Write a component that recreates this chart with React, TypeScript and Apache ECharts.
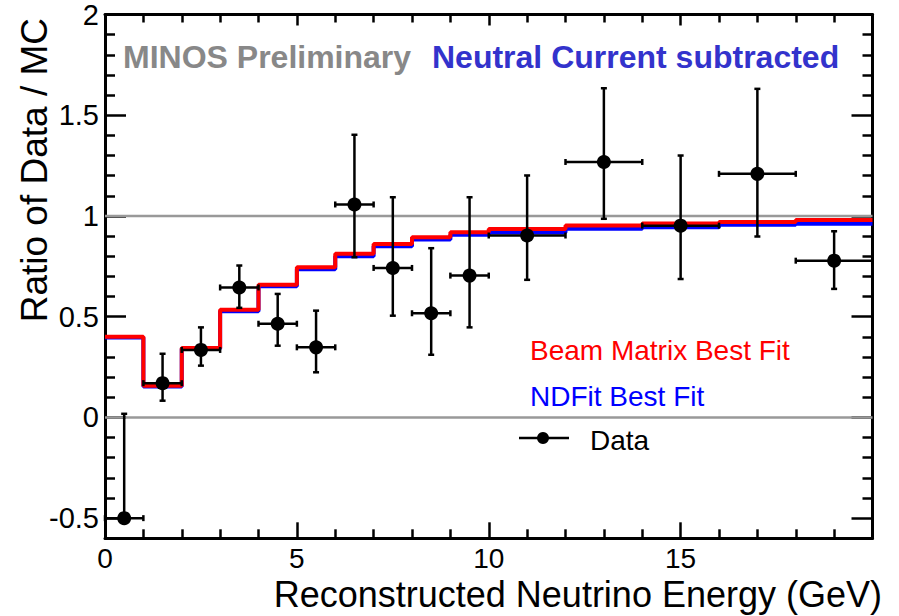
import React, { useEffect, useRef } from "react";
import * as echarts from "echarts";

// Bin edges of the fit histograms (GeV)
const binEdges = [0, 1, 2, 3, 4, 5, 6, 7, 8, 9, 10, 12, 14, 16, 18, 20];
// Beam Matrix Best Fit (red) ratio per bin
const beamMatrixFit = [0.4, 0.157, 0.345, 0.534, 0.658, 0.745, 0.812, 0.861, 0.894, 0.919, 0.935, 0.953, 0.963, 0.97, 0.98];
// NDFit Best Fit (blue) ratio per bin
const ndFit = [0.397, 0.154, 0.341, 0.527, 0.651, 0.735, 0.8, 0.85, 0.883, 0.907, 0.918, 0.936, 0.944, 0.956, 0.961];

// Data points
const dataX = [0.5, 1.5, 2.5, 3.5, 4.5, 5.5, 6.5, 7.5, 8.5, 9.5, 11, 13, 15, 17, 19];
const dataXErr = [0.5, 0.5, 0.5, 0.5, 0.5, 0.5, 0.5, 0.5, 0.5, 0.5, 1, 1, 1, 1, 1];
const dataY = [-0.5, 0.17, 0.335, 0.645, 0.465, 0.348, 1.057, 0.742, 0.517, 0.704, 0.903, 1.268, 0.952, 1.209, 0.778];
const dataYLow = [-0.5, 0.083, 0.257, 0.544, 0.356, 0.224, 0.795, 0.505, 0.311, 0.447, 0.683, 0.986, 0.687, 0.898, 0.638];
const dataYHigh = [0.018, 0.316, 0.447, 0.754, 0.613, 0.53, 1.403, 1.093, 0.84, 1.093, 1.201, 1.634, 1.3, 1.631, 0.924];

// Reference horizontal lines
const refLines = [0, 1];

// Axis ranges / tick settings
const xMin = 0;
const xMax = 20;
const xInterval = 5;
const yMin = -0.6;
const yMax = 2;
const yTickMin = -0.5;
const yInterval = 0.5;

const FONT = "'Liberation Sans', Arial, Helvetica, sans-serif";

function stepData(edges: number[], vals: number[]) {
  const pts: number[][] = vals.map((v, i) => [edges[i], v]);
  pts.push([edges[edges.length - 1], vals[vals.length - 1]]);
  return pts;
}

export default function App() {
  const ref = useRef<HTMLDivElement>(null);
  useEffect(() => {
    if (!ref.current) return;
    const chart = echarts.init(ref.current, undefined, { renderer: "svg" });

    const gridLeft = 105;
    const gridRight = 26.5;
    const gridTop = 14.5;
    const gridBottom = 77.7;
    const plotH = 616 - gridTop - gridBottom;
    const pxPerY = plotH / (yMax - yMin);
    const grid2Bottom = gridBottom + (yTickMin - yMin) * pxPerY;

    const axisLineStyle = { color: "#000", width: 3 };

    const errData = dataX.map((x, i) => [x, dataY[i], dataXErr[i], dataYLow[i], dataYHigh[i]]);

    const option: any = {
      animation: false,
      backgroundColor: "#fff",
      grid: [
        { left: gridLeft, right: gridRight, top: gridTop, bottom: gridBottom },
        { left: gridLeft, right: gridRight, top: gridTop, bottom: grid2Bottom },
      ],
      xAxis: [
        {
          gridIndex: 0,
          type: "value",
          position: "bottom",
          min: xMin,
          max: xMax,
          interval: xInterval,
          axisLine: { show: true, onZero: false, lineStyle: axisLineStyle },
          axisTick: { show: true, inside: true, length: 16, lineStyle: { color: "#000", width: 2.5 } },
          minorTick: { show: true, splitNumber: 5, length: 9, lineStyle: { color: "#000", width: 2.5 } },
          splitLine: { show: false },
          axisLabel: {
            show: true,
            margin: 6,
            fontSize: 28,
            fontFamily: FONT,
            color: "#000",
            formatter: (v: number) => (v >= xMax ? "" : String(v)),
          },
        },
        {
          gridIndex: 0,
          type: "value",
          position: "top",
          min: xMin,
          max: xMax,
          interval: xInterval,
          axisLine: { show: true, onZero: false, lineStyle: axisLineStyle },
          axisTick: { show: true, inside: true, length: 11, lineStyle: { color: "#000", width: 2.5 } },
          minorTick: { show: true, splitNumber: 5, length: 8, lineStyle: { color: "#000", width: 2.5 } },
          splitLine: { show: false },
          axisLabel: { show: false },
        },
        {
          gridIndex: 1,
          type: "value",
          min: xMin,
          max: xMax,
          show: false,
        },
      ],
      yAxis: [
        {
          gridIndex: 0,
          type: "value",
          position: "left",
          min: yMin,
          max: yMax,
          axisLine: { show: true, onZero: false, lineStyle: axisLineStyle },
          axisTick: { show: false },
          axisLabel: { show: false },
          splitLine: { show: false },
        },
        {
          gridIndex: 0,
          type: "value",
          position: "right",
          min: yMin,
          max: yMax,
          axisLine: { show: true, onZero: false, lineStyle: axisLineStyle },
          axisTick: { show: false },
          axisLabel: { show: false },
          splitLine: { show: false },
        },
        {
          gridIndex: 1,
          type: "value",
          position: "left",
          min: yTickMin,
          max: yMax,
          interval: yInterval,
          axisLine: { show: false, onZero: false },
          axisTick: { show: true, inside: true, length: 21, lineStyle: { color: "#000", width: 2.5 } },
          minorTick: { show: true, splitNumber: 5, length: 10, lineStyle: { color: "#000", width: 2.5 } },
          splitLine: { show: false },
          axisLabel: {
            show: true,
            margin: 6,
            fontSize: 29,
            fontFamily: FONT,
            color: "#000",
            formatter: (v: number) => String(Math.round(v * 10) / 10),
          },
        },
        {
          gridIndex: 1,
          type: "value",
          position: "right",
          min: yTickMin,
          max: yMax,
          interval: yInterval,
          axisLine: { show: false, onZero: false },
          axisTick: { show: true, inside: true, length: 21, lineStyle: { color: "#000", width: 2.5 } },
          minorTick: { show: true, splitNumber: 5, length: 10, lineStyle: { color: "#000", width: 2.5 } },
          splitLine: { show: false },
          axisLabel: { show: false },
        },
      ],
      series: [
        ...refLines.map((v) => ({
          type: "line",
          xAxisIndex: 0,
          yAxisIndex: 0,
          data: [
            [xMin, v],
            [xMax, v],
          ],
          symbol: "none",
          silent: true,
          lineStyle: { color: "#999", width: 2.5 },
          z: 1,
        })),
        {
          name: "NDFit Best Fit",
          type: "line",
          xAxisIndex: 0,
          yAxisIndex: 0,
          step: "end",
          data: stepData(binEdges, ndFit),
          symbol: "none",
          lineStyle: { color: "#0000ff", width: 4 },
          z: 2,
        },
        {
          name: "Beam Matrix Best Fit",
          type: "line",
          xAxisIndex: 0,
          yAxisIndex: 0,
          step: "end",
          data: stepData(binEdges, beamMatrixFit),
          symbol: "none",
          lineStyle: { color: "#ff0000", width: 4 },
          z: 3,
        },
        {
          name: "Data",
          type: "custom",
          xAxisIndex: 0,
          yAxisIndex: 0,
          z: 5,
          encode: { x: 0, y: 1 },
          data: errData,
          renderItem: (_params: any, api: any) => {
            const x = api.value(0);
            const y = api.value(1);
            const xe = api.value(2);
            const lo = api.value(3);
            const hi = api.value(4);
            const pC = api.coord([x, y]);
            const pL = api.coord([x - xe, y]);
            const pR = api.coord([x + xe, y]);
            const pLo = api.coord([x, lo]);
            const pHi = api.coord([x, hi]);
            const cap = 3;
            const style = { stroke: "#000", lineWidth: 2.5 };
            const children: any[] = [
              { type: "line", shape: { x1: pL[0], y1: pC[1], x2: pR[0], y2: pC[1] }, style },
              { type: "line", shape: { x1: pL[0], y1: pC[1] - cap, x2: pL[0], y2: pC[1] + cap }, style },
              { type: "line", shape: { x1: pR[0], y1: pC[1] - cap, x2: pR[0], y2: pC[1] + cap }, style },
              { type: "line", shape: { x1: pC[0], y1: pLo[1], x2: pC[0], y2: pHi[1] }, style },
              { type: "line", shape: { x1: pC[0] - cap, y1: pHi[1], x2: pC[0] + cap, y2: pHi[1] }, style },
            ];
            if (lo < y) {
              children.push({ type: "line", shape: { x1: pC[0] - cap, y1: pLo[1], x2: pC[0] + cap, y2: pLo[1] }, style });
            }
            children.push({ type: "circle", shape: { cx: pC[0], cy: pC[1], r: 7 }, style: { fill: "#000" } });
            return { type: "group", children };
          },
        },
      ],
      graphic: [
        {
          type: "text",
          x: 123,
          y: 57,
          style: { text: "MINOS Preliminary", fill: "#888888", font: `bold 32px ${FONT}`, verticalAlign: "middle", align: "left" },
        },
        {
          type: "text",
          x: 432,
          y: 57,
          style: { text: "Neutral Current subtracted", fill: "#3333cc", font: `bold 32px ${FONT}`, verticalAlign: "middle", align: "left" },
        },
        {
          type: "text",
          x: 530,
          y: 350,
          style: { text: "Beam Matrix Best Fit", fill: "#ff0000", font: `28px ${FONT}`, verticalAlign: "middle", align: "left" },
        },
        {
          type: "text",
          x: 530,
          y: 396,
          style: { text: "NDFit Best Fit", fill: "#0000ff", font: `28px ${FONT}`, verticalAlign: "middle", align: "left" },
        },
        {
          type: "line",
          shape: { x1: 519, y1: 438, x2: 569, y2: 438 },
          style: { stroke: "#000", lineWidth: 2.5 },
        },
        {
          type: "circle",
          shape: { cx: 543, cy: 438, r: 6 },
          style: { fill: "#000" },
        },
        {
          type: "text",
          x: 590,
          y: 440,
          style: { text: "Data", fill: "#000", font: `28px ${FONT}`, verticalAlign: "middle", align: "left" },
        },
        {
          type: "text",
          x: 882,
          y: 594,
          style: { text: "Reconstructed Neutrino Energy (GeV)", fill: "#000", font: `36px ${FONT}`, verticalAlign: "middle", align: "right" },
        },
        {
          type: "text",
          x: 34,
          y: 18,
          rotation: Math.PI / 2,
          style: { text: "Ratio of Data / MC", fill: "#000", font: `37px ${FONT}`, verticalAlign: "middle", align: "right" },
        },
      ],
    };

    chart.setOption(option);
    return () => chart.dispose();
  }, []);

  return <div ref={ref} style={{ width: 899, height: 616, position: "absolute", left: 0, top: 0, background: "#fff" }} />;
}
